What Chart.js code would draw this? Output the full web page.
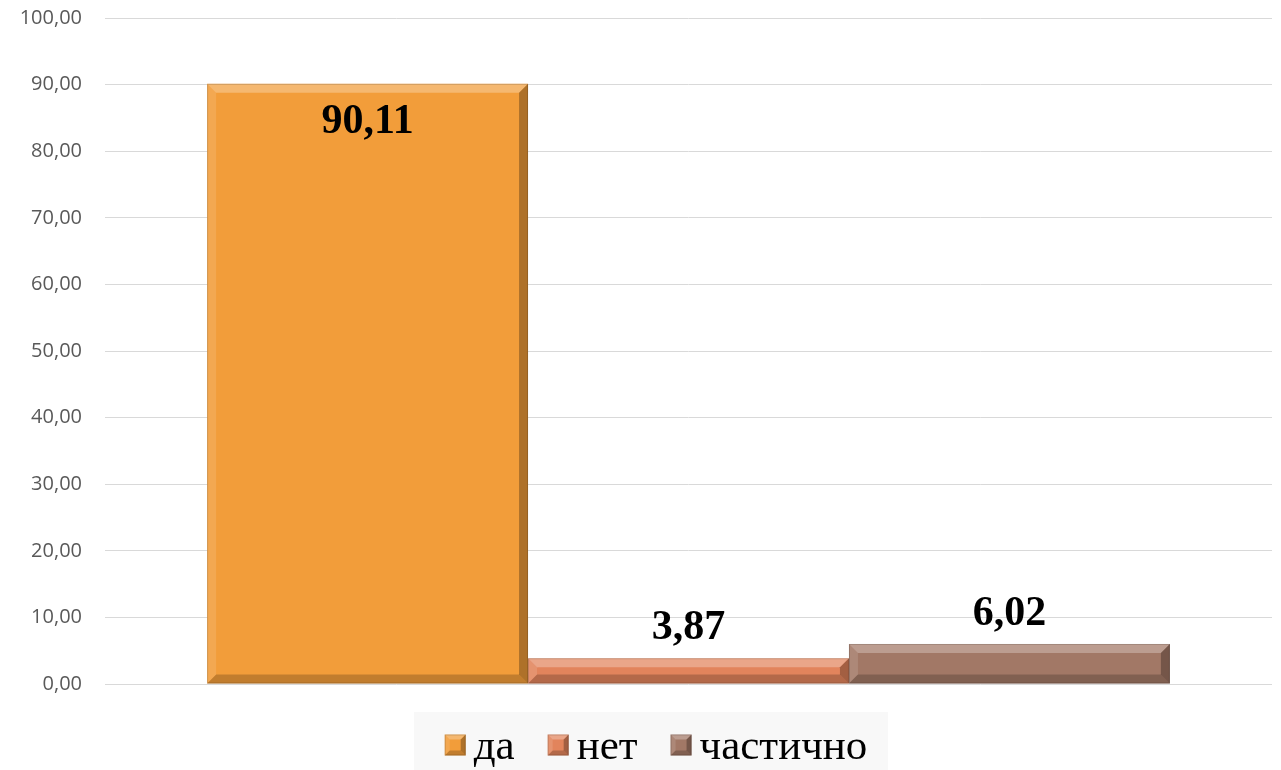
<!DOCTYPE html>
<html>
    <head>
        <meta charset="utf-8">
        <script src="https://cdn.jsdelivr.net/npm/chart.js@4.4.0/dist/chart.umd.min.js"></script>
        <title>да / нет / частично</title>
        <style>
            body { margin:0; background:#ffffff; }
            #chart_container { width:1281px; height:770px; position:relative; }
        </style>
    </head>
    <body>
        <div id="chart_container">
            <canvas id="answers_chart"></canvas>
        </div>

        <script type="text/javascript">
            // data
            var categories = [""];
            var seriesNames = ["да", "нет", "частично"];
            var seriesValues = [[90.11], [3.87], [6.02]];
            var seriesColors = ["#F29D3A", "#E2845C", "#A27866"];
            var yTicks = [0, 10, 20, 30, 40, 50, 60, 70, 80, 90, 100];

            var serifFont = "'Liberation Serif', 'Times New Roman', serif";

            function fmt(v){
                return v.toFixed(2).replace(".", ",");
            }

            // bevel: light top/left, dark right/bottom
            function drawBevel(ctx, l, t, r, b, s){
                ctx.save();
                ctx.fillStyle = "rgba(255,255,255,0.28)";
                ctx.beginPath();
                ctx.moveTo(l, t); ctx.lineTo(r, t); ctx.lineTo(r - s, t + s); ctx.lineTo(l + s, t + s);
                ctx.closePath(); ctx.fill();
                ctx.fillStyle = "rgba(255,255,255,0.12)";
                ctx.beginPath();
                ctx.moveTo(l, t); ctx.lineTo(l + s, t + s); ctx.lineTo(l + s, b - s); ctx.lineTo(l, b);
                ctx.closePath(); ctx.fill();
                ctx.fillStyle = "rgba(0,0,0,0.28)";
                ctx.beginPath();
                ctx.moveTo(r, t); ctx.lineTo(r, b); ctx.lineTo(r - s, b - s); ctx.lineTo(r - s, t + s);
                ctx.closePath(); ctx.fill();
                ctx.fillStyle = "rgba(0,0,0,0.2)";
                ctx.beginPath();
                ctx.moveTo(l, b); ctx.lineTo(r, b); ctx.lineTo(r - s, b - s); ctx.lineTo(l + s, b - s);
                ctx.closePath(); ctx.fill();
                ctx.strokeStyle = "rgba(0,0,0,0.15)";
                ctx.lineWidth = 1;
                ctx.strokeRect(l + 0.5, t + 0.5, r - l - 1, b - t - 1);
                ctx.restore();
            }

            var bevelPlugin = {
                id: "bevel",
                afterDatasetsDraw: function(chart){
                    chart.data.datasets.forEach(function(ds, i){
                        chart.getDatasetMeta(i).data.forEach(function(bar){
                            var l = bar.x - bar.width/2, r = bar.x + bar.width/2;
                            var s = Math.min(9, (bar.base - bar.y)/2);
                            drawBevel(chart.ctx, l, bar.y, r, bar.base, s);
                        });
                    });
                }
            };

            var valueLabels = {
                id: "valueLabels",
                afterDatasetsDraw: function(chart){
                    var ctx = chart.ctx;
                    ctx.save();
                    ctx.font = "bold 42px " + serifFont;
                    ctx.fillStyle = "#000000";
                    ctx.textAlign = "center";
                    chart.data.datasets.forEach(function(ds, i){
                        chart.getDatasetMeta(i).data.forEach(function(bar, j){
                            var v = ds.data[j];
                            if(v > 50){
                                ctx.textBaseline = "middle";
                                ctx.fillText(fmt(v), bar.x, bar.y + 38);
                            } else {
                                ctx.textBaseline = "alphabetic";
                                ctx.fillText(fmt(v), bar.x, bar.y - 19);
                            }
                        });
                    });
                    ctx.restore();
                }
            };

            // legend at the bottom on a light panel
            var bottomLegend = {
                id: "bottomLegend",
                afterDraw: function(chart){
                    var ctx = chart.ctx;
                    ctx.save();
                    ctx.fillStyle = "#F8F8F8";
                    ctx.fillRect(414, 712, 474, 58);
                    ctx.font = "43px " + serifFont;
                    ctx.textBaseline = "middle";
                    ctx.textAlign = "left";
                    var box = 21, gapText = 8, gapItem = 33;
                    var total = 0;
                    seriesNames.forEach(function(n, i){
                        total += box + gapText + ctx.measureText(n).width;
                        if(i < seriesNames.length - 1) total += gapItem;
                    });
                    var x = 656 - total/2;
                    var cy = 745;
                    seriesNames.forEach(function(n, i){
                        ctx.fillStyle = seriesColors[i];
                        ctx.fillRect(x, cy - box/2, box, box);
                        drawBevel(ctx, x, cy - box/2, x + box, cy + box/2, 5);
                        ctx.fillStyle = "#000000";
                        ctx.fillText(n, x + box + gapText, cy + 3);
                        x += box + gapText + ctx.measureText(n).width + gapItem;
                    });
                    ctx.restore();
                }
            };

            var datasets = seriesNames.map(function(name, i){
                return {
                    label: name,
                    data: seriesValues[i],
                    backgroundColor: seriesColors[i],
                    borderWidth: 0,
                    categoryPercentage: 0.825,
                    barPercentage: 1.0
                };
            });

            var ctx = document.getElementById("answers_chart");
            var answers_chart = new Chart(ctx, {
                type: "bar",
                data: { labels: categories, datasets: datasets },
                plugins: [bevelPlugin, valueLabels, bottomLegend],
                options: {
                    responsive: true,
                    maintainAspectRatio: false,
                    animation: false,
                    layout: { padding: { top: 18, right: 9, left: 0, bottom: 86 } },
                    plugins: {
                        tooltip: { enabled: false },
                        legend: { display: false }
                    },
                    scales: {
                        x: { display: false },
                        y: {
                            min: 0,
                            max: 100,
                            afterFit: function(scale){
                                scale.width = 105;
                                scale.paddingTop = 0;
                                scale.paddingBottom = 0;
                            },
                            afterBuildTicks: function(scale){
                                scale.ticks = yTicks.map(function(v){ return { value: v }; });
                            },
                            grid: { color: "#D9D9D9", drawTicks: false },
                            border: { display: false },
                            ticks: {
                                padding: 23,
                                color: "#595959",
                                font: { family: "'Open Sans', 'Liberation Sans', sans-serif", size: 20 },
                                callback: function(v){ return fmt(v); }
                            }
                        }
                    }
                }
            });
        </script>
    </body>
</html>
